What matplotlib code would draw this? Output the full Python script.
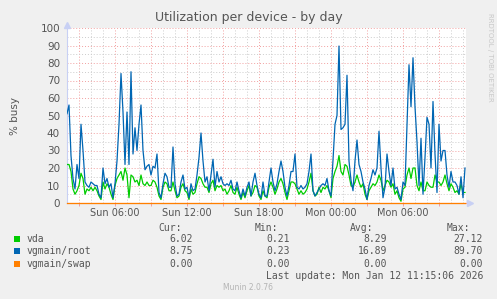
import matplotlib
matplotlib.use("Agg")
import matplotlib.pyplot as plt
import matplotlib.dates as mdates
import matplotlib.ticker as mticker
from matplotlib.patches import Rectangle
import pandas as pd

START = "2026-01-11 02:00"
END = "2026-01-12 11:15"
STEP = "10min"

vda = [
    22, 22, 18, 8, 5, 7, 10, 17, 14, 5, 8, 7, 9, 7, 9, 7, 4, 2, 12, 8,
    11, 9, 5, 2, 10, 14, 16, 18, 13, 20, 16, 3, 16, 15, 12, 13, 10, 16, 11, 10,
    12, 10, 10, 13, 12, 9, 4, 2, 9, 12, 11, 7, 7, 12, 7, 3, 4, 9, 11, 7,
    6, 2, 8, 5, 6, 11, 15, 14, 11, 9, 9, 6, 11, 13, 7, 10, 9, 10, 7, 8,
    5, 7, 10, 6, 5, 9, 5, 2, 6, 3, 7, 10, 4, 6, 10, 9, 4, 2, 7, 4,
    3, 9, 12, 9, 5, 8, 12, 14, 11, 6, 2, 7, 12, 12, 11, 8, 5, 7, 5, 6,
    8, 12, 17, 7, 4, 5, 9, 6, 9, 8, 10, 7, 3, 14, 18, 21, 27.12, 18, 16, 22,
    21, 16, 10, 9, 12, 16, 12, 9, 11, 5, 2, 7, 9, 11, 10, 12, 16, 13, 7, 10,
    13, 12, 9, 11, 5, 7, 3, 1, 8, 9, 16, 20, 14, 20, 20, 10, 7, 12, 7, 7,
    12, 10, 9, 9, 16, 12, 12, 10, 12, 16, 11, 7, 11, 9, 6, 7, 5, 11, 6, 6.02,
]
root = [
    51, 56, 27, 14, 8, 22, 14, 45, 30, 12, 10, 9, 12, 11, 10, 10, 5, 3, 20, 11,
    14, 9, 11, 3, 11, 24, 45, 74, 52, 22, 52, 22, 75, 28, 43, 30, 45, 56, 30, 19,
    21, 22, 16, 21, 20, 28, 6, 3, 11, 17, 15, 9, 9, 32, 11, 4, 5, 12, 16, 8,
    9, 3, 11, 7, 8, 16, 26, 40, 24, 12, 15, 7, 16, 25, 9, 18, 12, 15, 11, 10,
    11, 10, 13, 8, 7, 12, 7, 3, 8, 4, 9, 12, 4, 12, 17, 10, 5, 3, 12, 4,
    4, 12, 20, 12, 7, 11, 18, 24, 18, 9, 4, 10, 18, 18, 28, 9, 8, 10, 8, 9,
    11, 18, 28, 7, 4, 6, 8, 10, 11, 10, 14, 7, 4, 25, 45, 50, 89.7, 42, 43, 45,
    73, 24, 13, 7, 24, 36, 22, 18, 12, 8, 2, 10, 14, 19, 16, 20, 41, 20, 3, 9,
    28, 18, 10, 20, 8, 9, 5, 2, 12, 10, 45, 79, 55, 83, 55, 35, 10, 37, 5, 26,
    49, 45, 20, 58, 28, 6, 45, 24, 30, 30, 16, 9, 18, 12, 12, 10, 5, 15, 3, 20,
]
swap = [0.0] * len(root)

names = ["vda", "vgmain/root", "vgmain/swap"]
colors = ["#00cc00", "#0066b3", "#ff8000"]
cur = ["6.02", "8.75", "0.00"]
mins = ["0.21", "0.23", "0.00"]
avgs = ["8.29", "16.89", "0.00"]
maxs = ["27.12", "89.70", "0.00"]
last_update = "Last update: Mon Jan 12 11:15:06 2026"

W, H = 497, 299
GREY = "#555555"


def fx(x):
    return x / W


def fy(y):
    return 1 - y / H


times = pd.date_range(START, periods=len(root), freq=STEP)

fig = plt.figure(figsize=(W / 100, H / 100), dpi=100, facecolor="#f0f0f0")
ax = fig.add_axes([fx(67), fy(203), 399 / W, 175 / H], facecolor="white")

for vals, c in zip([vda, root, swap], colors):
    ax.plot(times, vals, color=c, linewidth=0.9, clip_on=(vals is not swap), zorder=3)

ax.set_xlim(pd.Timestamp(START), pd.Timestamp(END))
ax.set_ylim(0, 100)

# grid: red every 3h / 10 units, grey every 1h / 5 units
ax.xaxis.set_major_locator(mdates.HourLocator(byhour=range(0, 24, 3)))
ax.xaxis.set_minor_locator(mdates.HourLocator())
ax.xaxis.set_major_formatter(mticker.FuncFormatter(
    lambda v, p: mdates.num2date(v).strftime("%a %H:%M") if mdates.num2date(v).hour % 6 == 0 else ""))
ax.yaxis.set_major_locator(mticker.MultipleLocator(10))
ax.yaxis.set_minor_locator(mticker.MultipleLocator(5))
ax.grid(which="major", color="#f2a0a0", linestyle=(0, (1, 2)), linewidth=0.7)
ax.grid(which="minor", color="#cccccc", linestyle=(0, (1, 2)), linewidth=0.7)
ax.set_axisbelow(True)

ax.tick_params(axis="x", which="major", length=2, width=0.7, color="#f2a0a0",
               labelsize=7, labelcolor=GREY, pad=1.5)
ax.tick_params(axis="x", which="minor", length=0)
ax.tick_params(axis="y", which="both", length=0, labelsize=7.5, labelcolor=GREY, pad=5)

for s in ["top", "right"]:
    ax.spines[s].set_visible(False)
ax.spines["left"].set_color("#c8d0f4")
ax.spines["bottom"].set_color("#f2a0a0")
ax.plot([0], [1.02], marker="^", markersize=4, color="#c8d0f4", transform=ax.transAxes, clip_on=False)
ax.plot([1.01], [0], marker=">", markersize=4, color="#c8d0f4", transform=ax.transAxes, clip_on=False)

# texts
fig.text(0.5, fy(18), "Utilization per device - by day", ha="center", va="center", fontsize=9, color=GREY)
fig.text(fx(15), fy(116), "% busy", rotation=90, ha="center", va="center", fontsize=7.5, color=GREY)
fig.text(fx(490), fy(13), "RRDTOOL / TOBI OETIKER", rotation=270, ha="center", va="top",
         fontsize=5, color="#c8c8c8")
fig.text(fx(248), fy(288), "Munin 2.0.76", ha="center", va="center", fontsize=5.5, color="#b4b4b4")

# legend table
mono = dict(family="DejaVu Sans Mono", fontsize=7, color=GREY, va="center")
for label, x in zip(["Cur:", "Min:", "Avg:", "Max:"], [182, 278, 373, 470]):
    fig.text(fx(x), fy(228), label, ha="right", **mono)
for i, name in enumerate(names):
    y = 239 + i * 12.4
    fig.add_artist(Rectangle((fx(14), fy(y + 3)), 6 / W, 6 / H, transform=fig.transFigure,
                             facecolor=colors[i], edgecolor="none"))
    fig.text(fx(27), fy(y), name, ha="left", **mono)
    for col, x in zip([cur, mins, avgs, maxs], [193, 290, 387, 483]):
        fig.text(fx(x), fy(y), col[i], ha="right", **mono)
fig.text(fx(483), fy(276), last_update, ha="right", **mono)

fig.savefig("out.png", dpi=100, facecolor=fig.get_facecolor())
